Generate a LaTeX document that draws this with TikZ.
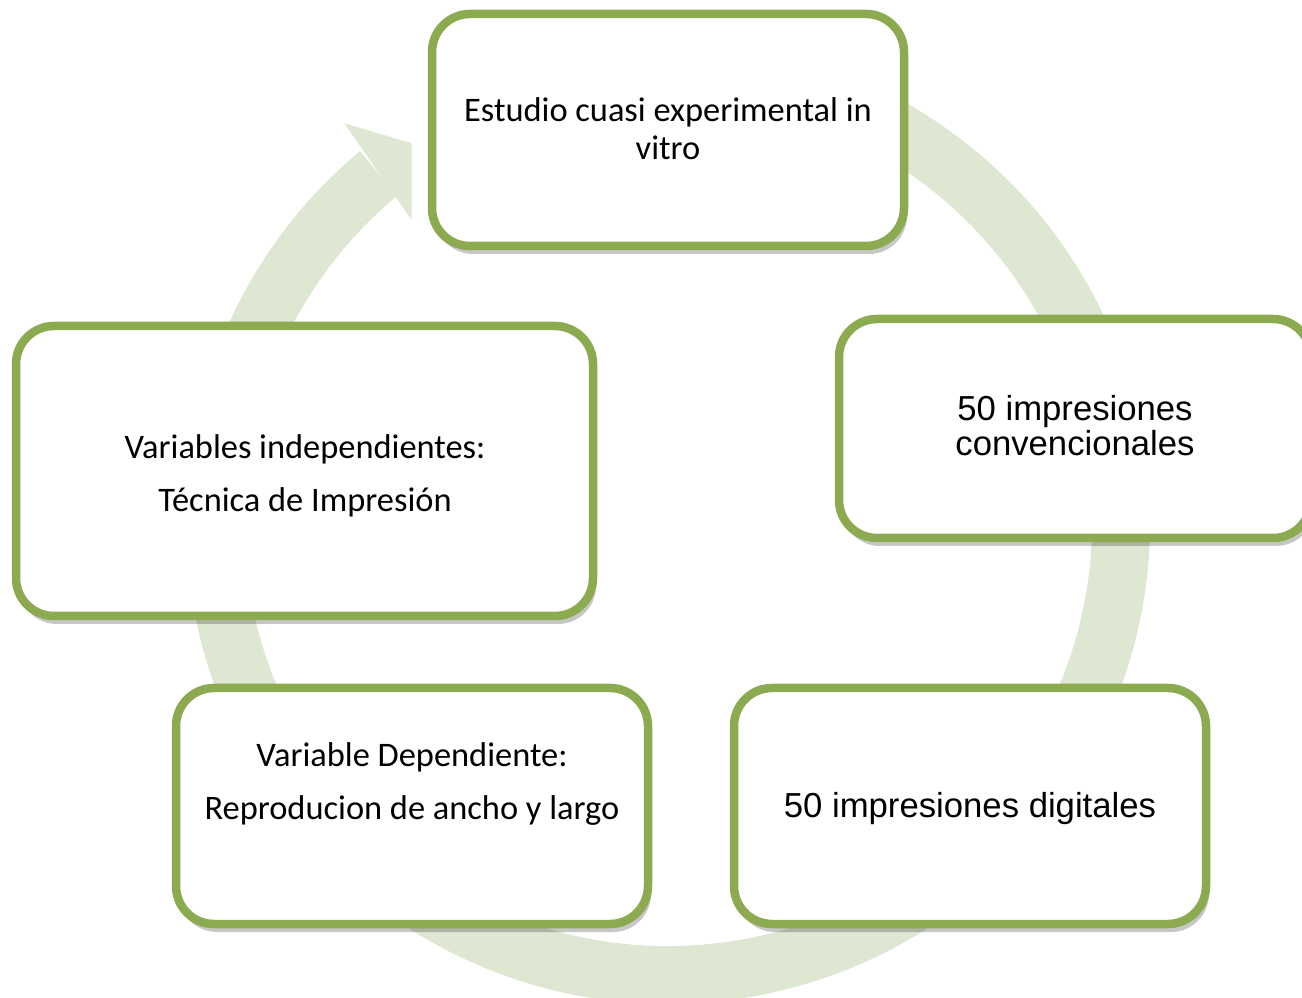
\documentclass[tikz,border=0pt]{standalone}
\usepackage{fontspec}
\setmainfont{Carlito}
\newfontfamily\arialf{Liberation Sans}
\usetikzlibrary{shadows}
\definecolor{boxgreen}{RGB}{140,171,81}
\definecolor{ringgreen}{RGB}{222,231,209}
\tikzset{
  cyclebox/.style={rectangle, draw=boxgreen, line width=8.5pt, fill=white,
    rounded corners=38pt, inner sep=0pt,
    drop shadow={shadow xshift=3pt, shadow yshift=-8pt, opacity=0.22, fill=black}},
  ringarc/.style={draw=ringgreen, line width=58pt},
  ringhead/.style={fill=ringgreen},
  cal/.style={font=\fontsize{34.4}{40}\selectfont, anchor=base, inner sep=0pt},
  ari/.style={font=\arialf\fontsize{34.7}{40}\selectfont, anchor=base, inner sep=0pt},
}
\begin{document}
\begin{tikzpicture}[x=1pt,y=1pt]
\useasboundingbox (0,0) rectangle (1302,997);
\clip (0,0) rectangle (1302,997);
% ring
\coordinate (c) at (668,475);
\draw[ringarc] (c) ++(100:453) arc[start angle=100, end angle=-230.3, radius=453];
\coordinate (hA) at (344.3,873.7);
\coordinate (hB) at (411.7,853.7);
\coordinate (hC) at (411.7,777);
\fill[ringhead] (hA) -- (hB) -- (hC) -- cycle;
% boxes
\node[cyclebox, minimum width=472, minimum height=232] (top) at (668,867) {};
\node[cyclebox, minimum width=472, minimum height=219] (right) at (1075,568.5) {};
\node[cyclebox, minimum width=577, minimum height=290] (left) at (304.5,526) {};
\node[cyclebox, minimum width=472, minimum height=236] (bl) at (412,191) {};
\node[cyclebox, minimum width=472, minimum height=236] (br) at (970,191) {};
% texts
\node[cal] (t1a) at (668,875) {Estudio cuasi experimental in};
\node[cal] (t1b) at (668,837) {vitro};
\node[ari] (t2a) at (1075,576) {50 impresiones};
\node[ari] (t2b) at (1075,541) {convencionales};
\node[ari] (t3a) at (970,179) {50 impresiones digitales};
\node[cal] (t4a) at (412,230) {Variable Dependiente:};
\node[cal] (t4b) at (412,177) {Reproducion de ancho y largo};
\node[cal] (t5a) at (305,538) {Variables independientes:};
\node[cal] (t5b) at (305,485) {Técnica de Impresión};
\end{tikzpicture}
\end{document}
